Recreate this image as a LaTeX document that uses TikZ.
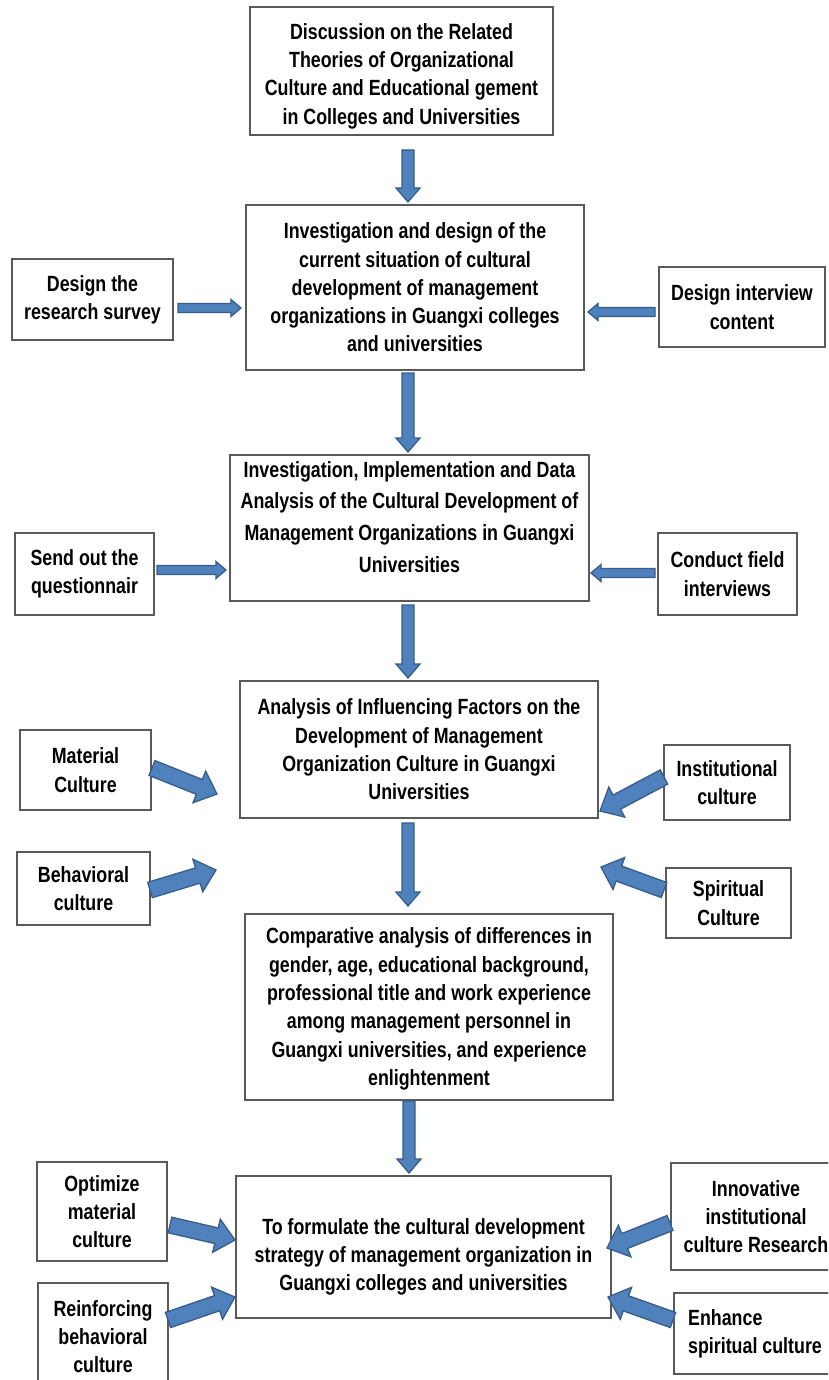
\documentclass[tikz,border=0pt]{standalone}
\usepackage{fontspec}
\setmainfont{Liberation Sans}[FakeStretch=0.81]
\usetikzlibrary{calc}
\definecolor{arrfill}{HTML}{4F81BD}
\definecolor{arrborder}{HTML}{385D8A}
\definecolor{boxline}{HTML}{5A5A5A}
\newcommand\blockarr[5]{%
  \coordinate (tmpH) at ($(#2)!#5!(#1)$);
  \filldraw[fill=arrfill, draw=arrborder, line width=1.3pt, line join=miter]
    ($(#1)!#3/2!90:(#2)$) -- ($(tmpH)!#3/2!90:(#2)$) -- ($(tmpH)!#4/2!90:(#2)$)
    -- (#2) -- ($(tmpH)!#4/2!-90:(#2)$) -- ($(tmpH)!#3/2!-90:(#2)$)
    -- ($(#1)!#3/2!-90:(#2)$) -- cycle;
}
\newcommand\txtshift[3]{\raisebox{0pt}[\dimexpr\height+#1\relax][\dimexpr\depth+#2\relax]{\begin{tabular}{@{}c@{}}#3\end{tabular}}}
\begin{document}
\begin{tikzpicture}[x=1pt,y=-1pt,
  box/.style={draw=boxline, line width=1.3pt, fill=white, align=center, inner sep=0pt,
    font=\fontsize{22}{28.3}\selectfont\bfseries}]
\useasboundingbox (0,0) rectangle (828,1380);
\clip (0,0) rectangle (828,1380);
\fill[white] (0,0) rectangle (828,1380);

% main column
\node[box, minimum width=303pt, minimum height=128pt] (b1) at (401.5,71)
  {\txtshift{10pt}{0pt}{Discussion on the Related\\Theories of Organizational\\Culture and Educational gement\\in Colleges and Universities}};
\node[box, minimum width=338pt, minimum height=165pt] (b2) at (415,287.5)
  {Investigation and design of the\\current situation of cultural\\development of management\\organizations in Guangxi colleges\\and universities};
\node[box, minimum width=359pt, minimum height=146pt] (b3) at (409.5,528)
  {\txtshift{0pt}{18pt}{Investigation, Implementation and Data\\[3.4pt]Analysis of the Cultural Development of\\[3.4pt]Management Organizations in Guangxi\\[3.4pt]Universities}};
\node[box, minimum width=358pt, minimum height=137pt] (b4) at (419,749.5)
  {Analysis of Influencing Factors on the\\Development of Management\\Organization Culture in Guangxi\\Universities};
\node[box, minimum width=368pt, minimum height=186pt] (b5) at (429,1007)
  {\txtshift{4pt}{0pt}{Comparative analysis of differences in\\gender, age, educational background,\\professional title and work experience\\among management personnel in\\Guangxi universities, and experience\\enlightenment}};
\node[box, minimum width=375pt, minimum height=142pt] (b6) at (423.5,1247)
  {\txtshift{20pt}{0pt}{To formulate the cultural development\\strategy of management organization in\\Guangxi colleges and universities}};

% side boxes
\node[box, minimum width=161pt, minimum height=81pt] (s1) at (92.5,299.5) {Design the\\research survey};
\node[box, minimum width=166pt, minimum height=80pt] (s2) at (742,307) {Design interview\\content};
\node[box, minimum width=139pt, minimum height=82pt] (s3) at (84.5,574) {Send out the\\questionnair};
\node[box, minimum width=139pt, minimum height=82pt] (s4) at (727.5,574) {Conduct field\\interviews};
\node[box, minimum width=131pt, minimum height=80pt] (m1) at (85.5,770) {Material\\Culture};
\node[box, minimum width=133pt, minimum height=73pt] (m2) at (83.5,888.5) {Behavioral\\culture};
\node[box, minimum width=126pt, minimum height=75pt] (m3) at (727,782.5) {Institutional\\culture};
\node[box, minimum width=125pt, minimum height=70pt] (m4) at (728.5,903) {Spiritual\\Culture};
\node[box, minimum width=130pt, minimum height=99pt] (o1) at (102,1211.5) {Optimize\\material\\culture};
\node[box, minimum width=130pt, minimum height=107pt] (o2) at (103,1336.5) {Reinforcing\\behavioral\\culture};
\node[box, minimum width=170pt, minimum height=107pt] (o3) at (756,1216.5) {Innovative\\institutional\\culture Research};
\node[box, minimum width=162pt, minimum height=81pt, align=left] (o4) at (755,1333.5) {Enhance\\spiritual culture};

% arrow end points
\coordinate (d1s) at (408,150);  \coordinate (d1e) at (408,202);
\coordinate (d2s) at (408,373);  \coordinate (d2e) at (408,452);
\coordinate (d3s) at (408,605);  \coordinate (d3e) at (408,678);
\coordinate (d4s) at (408,823);  \coordinate (d4e) at (408,906);
\coordinate (d5s) at (409,1101); \coordinate (d5e) at (409,1173);

\coordinate (h1s) at (178,308);  \coordinate (h1e) at (241,308);
\coordinate (h2s) at (655,312);  \coordinate (h2e) at (588,312);
\coordinate (h3s) at (157,570);  \coordinate (h3e) at (226,570);
\coordinate (h4s) at (655,573);  \coordinate (h4e) at (591,573);

\coordinate (g1s) at (152,768);  \coordinate (g1e) at (217,794);
\coordinate (g2s) at (150,890);  \coordinate (g2e) at (216,870);
\coordinate (g3s) at (664,777);  \coordinate (g3e) at (600,811);
\coordinate (g4s) at (664,890);  \coordinate (g4e) at (601,867);
\coordinate (g5s) at (170,1225); \coordinate (g5e) at (235,1240);
\coordinate (g6s) at (168,1320); \coordinate (g6e) at (235,1297);
\coordinate (g7s) at (670,1223); \coordinate (g7e) at (607,1248);
\coordinate (g8s) at (673,1320); \coordinate (g8e) at (608,1297);

% arrows
\blockarr{d1s}{d1e}{12pt}{24pt}{14pt}
\blockarr{d2s}{d2e}{12pt}{24pt}{14pt}
\blockarr{d3s}{d3e}{12pt}{24pt}{14pt}
\blockarr{d4s}{d4e}{12pt}{24pt}{14pt}
\blockarr{d5s}{d5e}{12pt}{24pt}{14pt}

\blockarr{h1s}{h1e}{9pt}{17pt}{10pt}
\blockarr{h2s}{h2e}{9pt}{17pt}{10pt}
\blockarr{h3s}{h3e}{9pt}{17pt}{10pt}
\blockarr{h4s}{h4e}{9pt}{17pt}{10pt}

\blockarr{g1s}{g1e}{16pt}{34pt}{19pt}
\blockarr{g2s}{g2e}{16pt}{34pt}{19pt}
\blockarr{g3s}{g3e}{16pt}{34pt}{19pt}
\blockarr{g4s}{g4e}{16pt}{34pt}{19pt}
\blockarr{g5s}{g5e}{16pt}{34pt}{19pt}
\blockarr{g6s}{g6e}{16pt}{34pt}{19pt}
\blockarr{g7s}{g7e}{16pt}{34pt}{19pt}
\blockarr{g8s}{g8e}{16pt}{34pt}{19pt}
\end{tikzpicture}
\end{document}
